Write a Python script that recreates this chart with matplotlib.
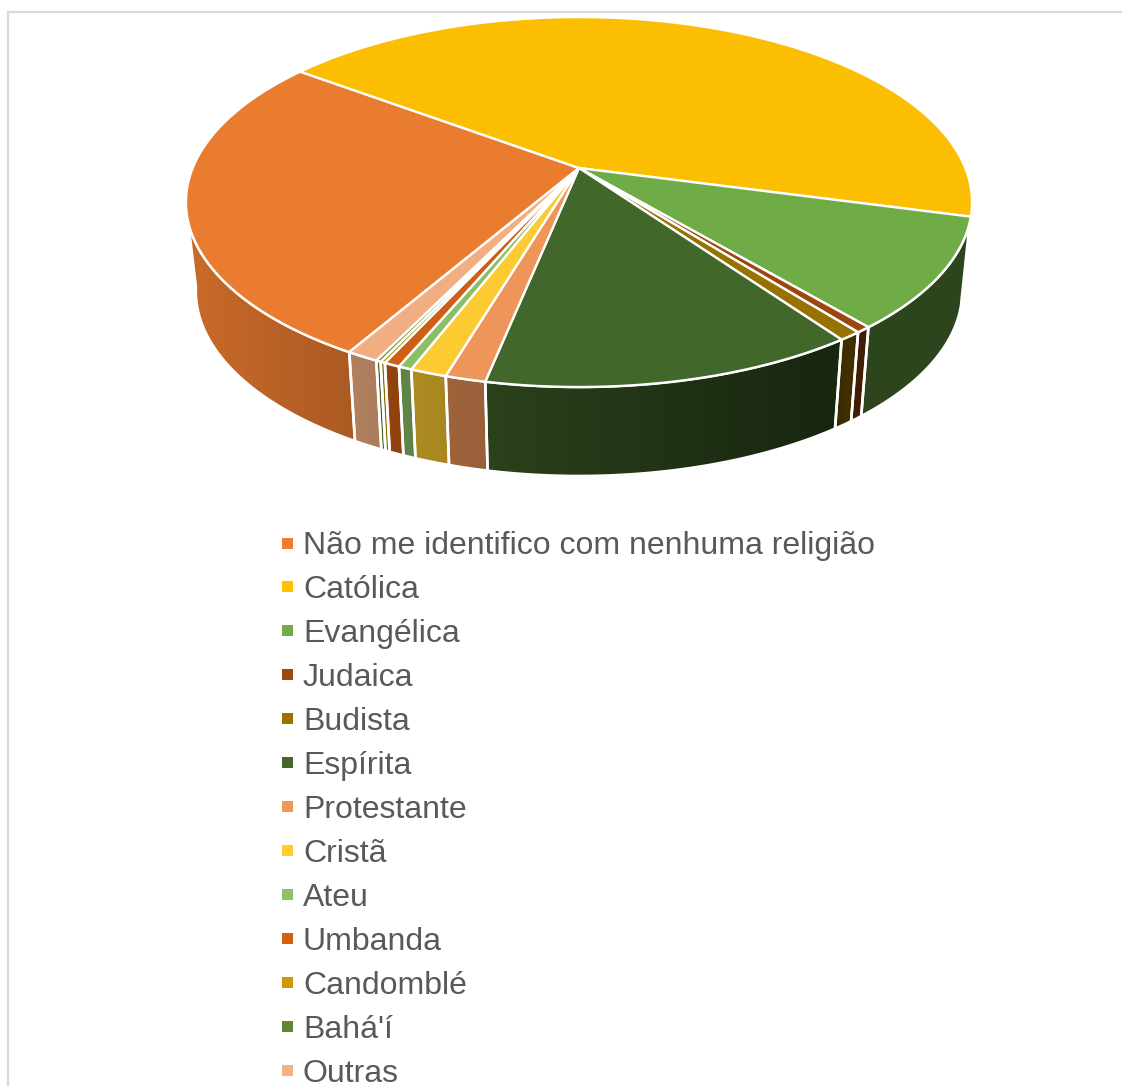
#!/usr/bin/env python
# coding: utf-8

import numpy as np
import matplotlib
matplotlib.use('Agg')
import matplotlib.pyplot as plt
from matplotlib.colors import to_rgb
from matplotlib.patches import Polygon, Rectangle

plt.rcParams['font.family'] = ['Liberation Sans', 'DejaVu Sans']

categories = ['Não me identifico com nenhuma religião', 'Católica', 'Evangélica',
              'Judaica', 'Budista', 'Espírita', 'Protestante', 'Cristã', 'Ateu',
              'Umbanda', 'Candomblé', "Bahá'í", 'Outras']
shares = [26.9, 44.0, 9.7, 0.53, 0.8, 13.0, 1.4, 1.27, 0.47, 0.55, 0.17, 0.17, 1.12]
colors = ['#ED7D31', '#FFC000', '#70AD47', '#9E480E', '#997300', '#43682B', '#F1975A',
          '#FFCD33', '#8CC168', '#D26012', '#CC9A00', '#5A8A39', '#F4B183']

# pie geometry, in pixels
CX, CY = 579, 168
A, B, K = 386.3, 178.7, 0.184
DEPTH = 89
BOTTOM_SCALE = 0.975
START_ANGLE = 210
WALL_FROM, WALL_TO = 106.5, 253.5
FLOOR_FROM, FLOOR_TO = 99.4, 260.6


def rim(angle, bottom=False):
    # clockwise degrees from the far side of the disc, with perspective
    t = np.radians(angle)
    x, y = np.sin(t), np.cos(t)
    px = A * x / (1 + K * y)
    py = CY - B * y / (1 + K * y)
    if bottom:
        return CX + BOTTOM_SCALE * px, py + DEPTH
    return CX + px, py


def wall_shade(x):
    # walls get darker towards the right, the last one lifts a little
    return np.interp(x, [190, 355, 490, 830, 850, 870], [0.85, 0.72, 0.63, 0.36, 0.42, 0.40])


def visible_range(a0, a1, low, high):
    # part of a slice inside [low, high], whichever turn of the circle it falls on
    for shift in (-360, 0, 360):
        lo = max(a0 + shift, low)
        hi = min(a1 + shift, high)
        if lo < hi:
            return lo, hi
    return None


fig = plt.figure(figsize=(11.22, 10.86), dpi=100)
ax = fig.add_axes([0, 0, 1, 1])

# chart frame
ax.plot([8, 8, 1122], [1086, 12, 12], color='#D9D9D9', lw=1.6, solid_joinstyle='miter')

sweep = np.array(shares) / sum(shares) * 360
edges = START_ANGLE + np.concatenate([[0], np.cumsum(sweep)])

# side walls first, the top of the pie goes over them
for i, color in enumerate(colors):
    top_range = visible_range(edges[i], edges[i + 1], WALL_FROM, WALL_TO)
    floor_range = visible_range(edges[i], edges[i + 1], FLOOR_FROM, FLOOR_TO)
    if top_range is None or floor_range is None:
        continue
    top_x, top_y = rim(np.linspace(top_range[0], top_range[1], 120))
    bot_x, bot_y = rim(np.linspace(floor_range[0], floor_range[1], 120), bottom=True)
    pts = np.column_stack([np.r_[top_x, bot_x[::-1]], np.r_[top_y, bot_y[::-1]]])
    outline = Polygon(pts, closed=True, facecolor='none', edgecolor='white', lw=1.9, zorder=3)

    x0, x1 = pts[:, 0].min(), pts[:, 0].max()
    y0, y1 = pts[:, 1].min(), pts[:, 1].max()
    cols = np.linspace(x0, x1, 200)
    shade = wall_shade(cols)[None, :, None] * np.array(to_rgb(color))[None, None, :]
    im = ax.imshow(shade, extent=[x0, x1, y1, y0], aspect='auto', zorder=2, interpolation='bilinear')
    ax.add_patch(outline)
    im.set_clip_path(outline)

# top of the pie
for i, color in enumerate(colors):
    t = np.linspace(edges[i], edges[i + 1], max(int(sweep[i] * 2), 4))
    x, y = rim(t)
    pts = np.column_stack([np.r_[CX, x], np.r_[CY, y]])
    face = np.array(to_rgb(color)) * 0.988
    ax.add_patch(Polygon(pts, closed=True, facecolor=face, edgecolor='white', lw=1.7,
                         joinstyle='round', zorder=4))

# legend rows
for i, (name, color) in enumerate(zip(categories, colors)):
    ax.add_patch(Rectangle((282, 537.5 + 43.97 * i), 11, 11, facecolor=color, edgecolor='none', zorder=5))
    ax.text(303, 554 + 43.97 * i, name, fontsize=23, color='#595959', ha='left', va='baseline', zorder=5)

ax.set_xlim(0, 1122)
ax.set_ylim(1086, 0)
ax.axis('off')

plt.savefig('out.png', dpi=100)
